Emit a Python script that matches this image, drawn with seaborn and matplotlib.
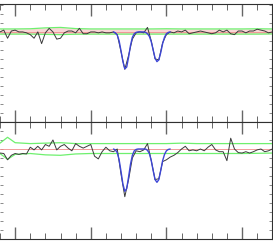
import numpy as np
import pandas as pd
import matplotlib
matplotlib.use("Agg")
import matplotlib.pyplot as plt
from matplotlib.ticker import MultipleLocator, NullFormatter
import seaborn as sns

# ---------------- data ----------------
# observed spectra (velocity grid, step 5 km/s)
vel = np.arange(-120, 241, 5)

flux_top = [1.00, 1.02, 0.93, 1.01, 1.02, 1.00, 1.00, 0.99, 0.97, 0.93,
            1.00, 0.87, 0.99, 1.04, 1.00, 0.92, 0.93, 0.99, 1.01, 1.01,
            0.99, 1.04, 0.98, 0.98, 1.00, 1.00, 0.99, 1.00, 0.99, 0.99,
            1.00, 0.97, 0.78, 0.585, 0.74, 0.92, 0.99, 1.00, 0.99, 1.05,
            0.90, 0.70, 0.69, 0.88, 0.97, 1.00, 0.99, 1.01, 1.00, 1.02,
            0.98, 0.99, 1.00, 1.01, 1.00, 0.99, 0.98, 0.99, 1.02, 1.00,
            1.02, 0.98, 0.97, 1.01, 1.01, 0.99, 1.01, 1.01, 1.03, 1.02,
            1.01, 0.99, 1.00]

flux_bot = [0.955, 0.95, 0.88, 0.93, 0.95, 0.94, 0.95, 0.945, 1.02, 0.99,
            1.03, 0.99, 1.05, 1.03, 1.10, 0.99, 1.03, 1.05, 1.01, 0.98,
            1.06, 1.03, 1.01, 1.03, 1.05, 0.92, 0.89, 0.97, 1.02, 0.98,
            0.97, 1.00, 0.72, 0.47, 0.66, 0.90, 0.98, 0.97, 0.99, 1.06,
            0.87, 0.66, 0.67, 0.86, 0.88, 0.91, 0.93, 0.96, 1.00, 1.03,
            0.98, 0.99, 0.98, 1.00, 0.98, 1.02, 1.05, 0.99, 0.97, 0.97,
            0.87, 1.12, 1.00, 0.96, 0.955, 0.97, 0.955, 0.97, 0.99, 1.00,
            0.97, 0.98, 1.00]

# model fits (velocity step 2.5 km/s)
vel_model = np.arange(30, 105.1, 2.5)
model_top = [1.00, 0.99, 0.965, 0.90, 0.79, 0.67, 0.59, 0.61, 0.72, 0.85,
             0.94, 0.98, 0.995, 1.00, 1.00, 1.00, 1.00, 0.995, 0.98, 0.95,
             0.89, 0.80, 0.71, 0.67, 0.69, 0.77, 0.87, 0.94, 0.98, 0.995,
             1.00]
model_bot = [1.00, 0.99, 0.96, 0.88, 0.75, 0.61, 0.53, 0.56, 0.69, 0.83,
             0.93, 0.98, 0.995, 1.00, 1.00, 1.00, 1.00, 1.00, 0.985, 0.95,
             0.87, 0.76, 0.66, 0.63, 0.66, 0.76, 0.87, 0.94, 0.98, 0.995,
             1.00]

# noise envelopes
vel_env = [-120, -110, -100, -80, -60, -40, -20, 0, 20, 40, 60, 80, 100,
           120, 140, 160, 180, 200, 220, 240]
env_top_hi = [1.033, 1.033, 1.033, 1.035, 1.045, 1.05, 1.037, 1.033, 1.033,
              1.033, 1.033, 1.033, 1.035, 1.033, 1.033, 1.033, 1.033, 1.033,
              1.035, 1.033]
env_top_lo = [0.976, 0.976, 0.976, 0.976, 0.973, 0.970, 0.975, 0.976, 0.976,
              0.976, 0.976, 0.976, 0.976, 0.976, 0.976, 0.976, 0.976, 0.976,
              0.976, 0.978]
env_bot_hi = [1.065, 1.13, 1.07, 1.06, 1.065, 1.07, 1.06, 1.06, 1.06, 1.06,
              1.06, 1.06, 1.06, 1.065, 1.06, 1.06, 1.06, 1.06, 1.06, 1.06]
env_bot_lo = [0.95, 0.885, 0.94, 0.95, 0.935, 0.93, 0.945, 0.95, 0.95, 0.95,
              0.95, 0.95, 0.95, 0.95, 0.95, 0.95, 0.95, 0.95, 0.952, 0.955]

# ---------------- figure ----------------
sns.set_style("white")
W, H = 273, 245
fig = plt.figure(figsize=(W / 100, H / 100), dpi=100)
ax_top = fig.add_axes([0.0, 1 - 122 / H, 272 / W, 118 / H])
ax_bot = fig.add_axes([0.0, 1 - 239 / H, 272 / W, 117 / H])

BLACK = "#3a3a3a"
BLUE = "#3d46d6"
GREEN = "#6ef06e"
PINK = "#f9d6d6"
RED = "#f08c8c"

panels = [
    (ax_top, flux_top, model_top, env_top_hi, env_top_lo, True),
    (ax_bot, flux_bot, model_bot, env_bot_hi, env_bot_lo, False),
]

for ax, flux, model, hi, lo, fill in panels:
    if fill:
        ax.fill_between(vel_env, lo, hi, color=PINK, lw=0, zorder=1)
    ax.axhline(1.0, color=RED, lw=0.6, zorder=2)
    sns.lineplot(x=vel_env, y=hi, ax=ax, color=GREEN, lw=0.9, zorder=3)
    sns.lineplot(x=vel_env, y=lo, ax=ax, color=GREEN, lw=0.9, zorder=3)
    sns.lineplot(x=vel, y=flux, ax=ax, color=BLACK, lw=0.7, zorder=4)
    sns.lineplot(x=vel_model, y=model, ax=ax, color=BLUE, lw=1.0, zorder=5)

    ax.set_xlim(-120, 239.6)
    ax.set_ylim(0, 1.31 if fill else 1.30)
    ax.set_xlabel("")
    ax.set_ylabel("")
    ax.xaxis.set_major_locator(MultipleLocator(100))
    ax.xaxis.set_minor_locator(MultipleLocator(20))
    ax.yaxis.set_major_locator(MultipleLocator(0.1))
    ax.xaxis.set_major_formatter(NullFormatter())
    ax.yaxis.set_major_formatter(NullFormatter())
    ax.tick_params(axis="x", which="major", direction="in", top=True,
                   bottom=True, length=8.6, width=1.0, color="#666666")
    ax.tick_params(axis="x", which="minor", direction="in", top=True,
                   bottom=True, length=4.3, width=0.7, color="#666666")
    ax.tick_params(axis="y", which="major", direction="in", left=True,
                   right=True, length=2.0, width=0.6, color="#777777")
    ax.spines["left"].set_visible(False)
    for s in ("top", "bottom", "right"):
        ax.spines[s].set_color("#303030")
        ax.spines[s].set_linewidth(0.8)
    ax.set_facecolor("white")

fig.savefig("out.png", dpi=100, facecolor="white")
